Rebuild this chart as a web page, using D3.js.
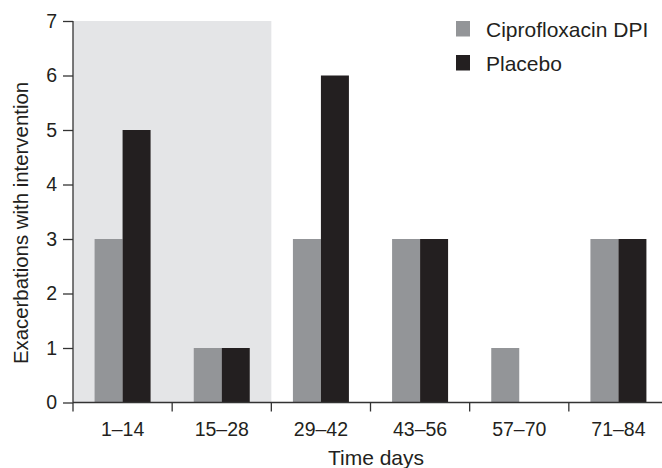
<!DOCTYPE html>
<html>
<head>
<meta charset="utf-8">
<script src="https://cdn.jsdelivr.net/npm/d3@7"></script>
<style>
  html, body { margin: 0; padding: 0; background: #fff; }
  svg { display: block; font-family: "Liberation Sans", Arial, sans-serif; }
</style>
</head>
<body>
<svg id="chart" width="662" height="468"></svg>
<script>
const categories = ["1–14", "15–28", "29–42", "43–56", "57–70", "71–84"];
const seriesNames = ["Ciprofloxacin DPI", "Placebo"];
const cipro = [3, 1, 3, 3, 1, 3];
const placebo = [5, 1, 6, 3, 0, 3];
const yTicks = [0, 1, 2, 3, 4, 5, 6, 7];
const shadedCategories = ["1–14", "15–28"];
const colors = ["#939598", "#231f20"];

const svg = d3.select("#chart");
const W = 662, H = 468;
const x0 = 73, x1 = 668, yTop = 21, yBot = 402.5;
const FONT = "Liberation Sans, Arial, sans-serif";

const x = d3.scaleBand().domain(categories).range([x0, x1]).paddingInner(0).paddingOuter(0);
const xs = d3.scaleBand().domain(seriesNames).range([0, 56]);
const y = d3.scaleLinear().domain([0, 7]).range([yBot, yTop]);

// shaded region
svg.append("rect")
  .attr("x", x(shadedCategories[0]))
  .attr("y", y(7))
  .attr("width", x(shadedCategories[1]) + x.bandwidth() - x(shadedCategories[0]))
  .attr("height", y(0) - y(7))
  .attr("fill", "#e4e5e7");

// bars
const data = categories.map((c, i) => ({ c, vals: [cipro[i], placebo[i]] }));
const g = svg.append("g");
data.forEach(d => {
  const off = x(d.c) + (x.bandwidth() - 56) / 2;
  d.vals.forEach((v, j) => {
    if (v <= 0) return;
    g.append("rect")
      .attr("x", off + xs(seriesNames[j]))
      .attr("y", y(v))
      .attr("width", xs.bandwidth())
      .attr("height", y(0) - y(v))
      .attr("fill", colors[j]);
  });
});

// y axis
const yAxis = svg.append("g")
  .attr("transform", `translate(${x0},0)`)
  .call(d3.axisLeft(y).tickValues(yTicks).tickSize(10).tickPadding(6).tickFormat(d3.format("d")));
yAxis.select(".domain").attr("stroke", "#333").attr("stroke-width", 1.3).attr("d", `M0,${yTop}V${yBot}`);
yAxis.selectAll(".tick line").attr("stroke", "#333").attr("stroke-width", 1.3);
yAxis.selectAll(".tick text").attr("font-size", 19.5).attr("fill", "#231f20").attr("font-family", FONT);

// x axis
const xAxis = svg.append("g")
  .attr("transform", `translate(0,${yBot})`)
  .call(d3.axisBottom(x).tickSize(0).tickPadding(19.5));
xAxis.select(".domain").attr("stroke", "#333").attr("stroke-width", 1.3).attr("d", `M${x0},0H${W}`);
xAxis.selectAll(".tick text").attr("font-size", 19.5).attr("fill", "#231f20").attr("font-family", FONT);
// boundary ticks between categories
const boundaries = categories.map(c => x(c));
xAxis.selectAll(".bt").data(boundaries).enter().append("line")
  .attr("x1", d => d).attr("x2", d => d).attr("y1", 0).attr("y2", 9)
  .attr("stroke", "#333").attr("stroke-width", 1.3);

// axis titles
svg.append("text")
  .attr("x", 376).attr("y", 465)
  .attr("text-anchor", "middle").attr("font-size", 21).attr("fill", "#231f20")
  .text("Time days");
svg.append("text")
  .attr("transform", `translate(28,223) rotate(-90)`)
  .attr("text-anchor", "middle").attr("font-size", 20.4).attr("fill", "#231f20")
  .text("Exacerbations with intervention");

// legend
const legend = svg.append("g").attr("transform", "translate(456,21)");
seriesNames.forEach((s, i) => {
  legend.append("rect").attr("x", 0).attr("y", i * 34).attr("width", 14).attr("height", 15.5).attr("fill", colors[i]);
  legend.append("text").attr("x", 30).attr("y", i * 33.5 + 16.3).attr("font-size", 21).attr("fill", "#231f20").text(s);
});
</script>
</body>
</html>
